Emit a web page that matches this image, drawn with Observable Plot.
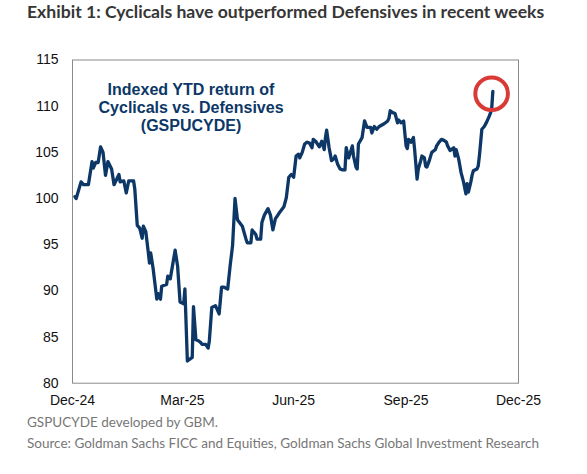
<!DOCTYPE html>
<html>
<head>
<meta charset="utf-8">
<script src="https://cdn.jsdelivr.net/npm/d3@7"></script>
<script src="https://cdn.jsdelivr.net/npm/@observablehq/plot@0.6"></script>
<style>
  body { margin: 0; background: #fff; width: 587px; height: 474px; position: relative; overflow: hidden; }
  #title { position: absolute; left: 27px; top: 1px; font: bold 17.6px Lato, "Open Sans", sans-serif; color: #363636; line-height: 22px; white-space: nowrap; }
  #chart { position: absolute; left: 0; top: 34px; }
  .cap { position: absolute; left: 27px; font: 13.5px Lato, "Open Sans", sans-serif; color: #777; white-space: nowrap; line-height: 18px; }
</style>
</head>
<body>
<div id="title">Exhibit 1: Cyclicals have outperformed Defensives in recent weeks</div>
<div id="chart"></div>
<div class="cap" id="cap1" style="top:413px">GSPUCYDE developed by GBM.</div>
<div class="cap" id="cap2" style="top:434px">Source: Goldman Sachs FICC and Equities, Goldman Sachs Global Investment Research</div>
<script>
// Day offsets since 31 Dec 2024 and indexed YTD return (GSPUCYDE)
const baseDate = "2024-12-31";
const days = [2,3,7,9,13,16,17,19,21,23,
25,27,29,32,34,38,39,42,44,46,
50,51,53,55,57,58,60,62,63,64,
66,69,70,72,73,77,78,80,84,86,
88,91,92,94,96,98,99,101,103,105,
106,109,111,112,114,117,120,122,124,127,
129,131,133,135,139,142,143,146,147,150,
151,154,155,157,160,162,164,166,169,173,
175,177,179,181,183,185,186,188,190,192,
194,196,197,199,202,204,206,207,208,210,
212,214,215,217,219,221,223,224,226,227,
229,230,232,233,234,237,239,241,244,245,
247,249,251,255,258,259,260,262,264,266,
267,269,271,273,274,275,277,279,280,282,
283,285,286,288,289,290,292,294,296,297,
298,300,302,304,306,307,309,310,312,313,
314,316,318,320,322,323,324,326,327,328,
331,332,333,335,337,339,341,343,344];
const values = [100.2,100.0,101.8,101.5,101.5,104.0,103.3,103.9,103.9,105.6,
105.0,102.5,104.0,103.2,101.5,102.6,101.8,101.9,100.6,101.9,
101.9,101.0,97.1,96.8,95.7,97.0,96.4,94.2,93.0,94.1,
92.4,89.1,89.7,89.1,90.5,90.7,91.6,91.3,94.4,92.7,
88.8,88.6,90.2,82.4,82.6,82.8,88.3,84.7,84.6,84.4,
84.2,84.2,83.8,84.6,88.2,88.4,87.5,90.4,90.4,90.2,
92.7,94.9,100.0,97.7,97.0,95.6,95.2,95.2,96.6,96.1,
95.6,95.6,97.4,98.2,98.9,98.2,96.6,97.8,98.4,99.1,
100.1,102.3,102.6,102.3,104.6,104.8,104.4,105.0,105.9,106.1,
106.0,105.5,106.4,106.2,105.6,106.2,105.3,106.6,107.4,105.5,
104.1,104.3,104.6,103.7,103.2,103.1,103.1,105.5,104.4,104.8,
105.7,104.6,103.4,103.2,105.9,106.6,108.4,107.7,107.7,107.1,
107.8,107.5,107.8,108.1,108.4,108.7,109.5,109.3,109.2,108.2,
108.5,108.2,108.4,105.7,105.4,106.4,106.1,106.6,105.3,102.1,
103.2,104.1,104.6,104.4,103.5,103.4,104.1,105.0,105.2,105.3,
105.7,106.1,106.4,106.3,106.1,105.7,105.2,105.3,105.5,104.6,
105.3,104.3,102.8,101.8,100.5,101.6,100.7,101.8,102.5,103.0,
103.2,103.5,104.6,107.5,107.8,108.3,108.9,109.6,111.6];

const xDomain = ["2024-12-31", "2025-12-31"];
const xTickDates = ["2024-12-31", "2025-03-31", "2025-06-30", "2025-09-30", "2025-12-31"];
const xTickLabels = ["Dec-24", "Mar-25", "Jun-25", "Sep-25", "Dec-25"];
const yDomain = [80, 115];
const yTicks = [80, 85, 90, 95, 100, 105, 110, 115];

const annotationLines = ["Indexed YTD return of", "Cyclicals vs. Defensives", "(GSPUCYDE)"];
const annotationDay = [97];
const annotationValue = [109.85];

const highlightDay = [343];
const highlightValue = [111.35];

const base = new Date(baseDate + "T00:00:00Z");
const toDate = d => d3.utcDay.offset(base, d);
const series = days.map((d, i) => ({date: toDate(d), value: values[i]}));
const tickDates = xTickDates.map(s => new Date(s + "T00:00:00Z"));
const labelOf = new Map(tickDates.map((d, i) => [+d, xTickLabels[i]]));

const chart = Plot.plot({
  width: 587,
  height: 376,
  marginTop: 25.5,
  marginBottom: 27.3,
  marginLeft: 72,
  marginRight: 69,
  style: {fontFamily: "'Liberation Sans', Arial, sans-serif", fontSize: "14px", color: "#111", background: "#fff", overflow: "visible"},
  x: {type: "utc", domain: xDomain.map(s => new Date(s + "T00:00:00Z")), ticks: tickDates, tickFormat: d => labelOf.get(+d), tickSize: 0, tickPadding: 12, label: null},
  y: {domain: yDomain, ticks: yTicks, tickSize: 0, tickPadding: 14, label: null},
  marks: [
    Plot.frame({stroke: "#8a8a8a", strokeWidth: 1}),
    Plot.line(series, {x: "date", y: "value", stroke: "#0c3766", strokeWidth: 3.3, strokeLinejoin: "round", strokeLinecap: "round"}),
    Plot.dot(highlightDay.map((d, i) => ({date: toDate(d), value: highlightValue[i]})), {x: "date", y: "value", r: 16.3, stroke: "#d93a36", strokeWidth: 4, fill: "none"}),
    Plot.text(annotationDay.map((d, i) => ({date: toDate(d), value: annotationValue[i], label: annotationLines.join("\n")})), {x: "date", y: "value", text: "label", fill: "#0c3766", fontWeight: "bold", fontSize: 16, lineHeight: 1.13, textAnchor: "middle", lineAnchor: "middle"})
  ]
});
document.getElementById("chart").appendChild(chart);
</script>
</body>
</html>
